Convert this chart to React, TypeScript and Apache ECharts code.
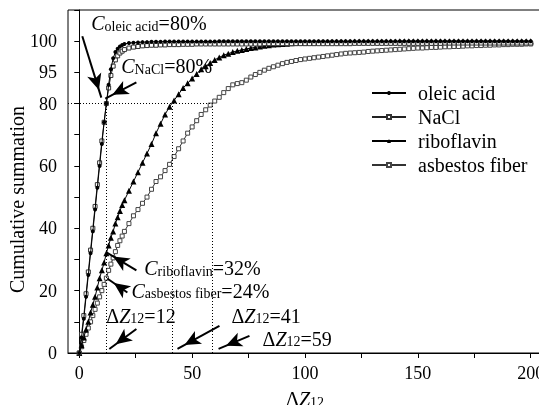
import React, { useEffect, useRef } from "react";
import * as echarts from "echarts";

const FONT = '"Liberation Serif", "Times New Roman", Times, serif';

// ΔZ12 sample positions
const dz = [
  0, 1, 2, 3, 4, 5, 6, 7, 8, 9, 10, 11, 12, 13, 14, 15, 16, 17, 18, 19, 20,
  22, 24, 26, 28, 30, 32, 34, 36, 38, 40, 42, 44, 46, 48, 50, 52, 54, 56, 58, 60,
  62, 64, 66, 68, 70, 72, 74, 76, 78, 80, 82, 84, 86, 88, 90, 92, 94, 96, 98, 100,
  102, 104, 106, 108, 110, 112, 114, 116, 118, 120, 122, 124, 126, 128, 130, 132, 134, 136, 138, 140,
  142, 144, 146, 148, 150, 152, 154, 156, 158, 160, 162, 164, 166, 168, 170, 172, 174, 176, 178, 180,
  182, 184, 186, 188, 190, 192, 194, 196, 198, 200,
];

const oleicAcid = [
  0, 5, 11, 18, 25, 32, 39, 46, 53, 60, 67, 74, 80, 86, 91, 94.5, 96.5, 97.6, 98.3, 98.8, 99.1,
  99.4, 99.5, 99.6, 99.7, 99.7, 99.8, 99.8, 99.8, 99.9, 99.9, 99.9, 99.9, 99.9, 99.9, 99.9, 99.9, 99.9, 99.9, 99.9, 99.9,
  100, 100, 100, 100, 100, 100, 100, 100, 100, 100, 100, 100, 100, 100, 100, 100, 100, 100, 100, 100,
  100, 100, 100, 100, 100, 100, 100, 100, 100, 100, 100, 100, 100, 100, 100, 100, 100, 100, 100, 100,
  100, 100, 100, 100, 100, 100, 100, 100, 100, 100, 100, 100, 100, 100, 100, 100, 100, 100, 100, 100,
  100, 100, 100, 100, 100, 100, 100, 100, 100, 100,
];

const naCl = [
  0, 6, 12, 19, 26, 33, 40, 47, 54, 61, 68, 74, 80, 85, 89, 92, 94, 95.3, 96.2, 96.8, 97.3,
  97.8, 98.1, 98.3, 98.5, 98.6, 98.7, 98.7, 98.8, 98.8, 98.9, 98.9, 98.9, 99, 99, 99, 99.1, 99.1, 99.1, 99.1, 99.1,
  99.1, 99.1, 99.1, 99.1, 99.1, 99.1, 99.1, 99.1, 99.1, 99.1, 99.2, 99.2, 99.2, 99.2, 99.2, 99.2, 99.2, 99.2, 99.2, 99.2,
  99.2, 99.2, 99.2, 99.2, 99.2, 99.2, 99.2, 99.2, 99.2, 99.2, 99.3, 99.3, 99.3, 99.3, 99.3, 99.3, 99.3, 99.3, 99.3, 99.3,
  99.3, 99.3, 99.3, 99.3, 99.3, 99.3, 99.3, 99.3, 99.3, 99.3, 99.4, 99.4, 99.4, 99.4, 99.4, 99.4, 99.4, 99.4, 99.4, 99.4,
  99.4, 99.4, 99.4, 99.4, 99.4, 99.4, 99.4, 99.4, 99.4, 99.4,
];

const riboflavin = [
  0, 2.5, 5, 7.5, 10, 13, 15.5, 18, 21, 24, 26.5, 29, 32, 34.5, 37, 39, 41.5, 43.5, 45.5, 47.5, 49,
  52, 55, 58, 61, 64, 67, 70.5, 73.5, 76.5, 79, 81, 83, 85, 86.5, 88, 89.5, 91, 92, 93, 94,
  94.8, 95.5, 96, 96.5, 96.9, 97.2, 97.5, 97.8, 98, 98.3, 98.5, 98.7, 98.9, 99, 99.1, 99.2, 99.3, 99.4, 99.5, 99.5,
  99.6, 99.6, 99.7, 99.7, 99.7, 99.8, 99.8, 99.8, 99.8, 99.8, 99.9, 99.9, 99.9, 99.9, 99.9, 99.9, 99.9, 99.9, 99.9, 99.9,
  100, 100, 100, 100, 100, 100, 100, 100, 100, 100, 100, 100, 100, 100, 100, 100, 100, 100, 100, 100,
  100, 100, 100, 100, 100, 100, 100, 100, 100, 100,
];

const asbestosFiber = [
  0, 2, 4, 6, 8, 10, 12, 14, 16, 18, 20, 22, 24, 26.5, 28.5, 30.5, 32.5, 34.5, 36, 37.5, 39,
  41.5, 44, 46, 48, 50, 52.5, 55, 56.5, 58.5, 60.5, 63, 65.5, 68, 70.5, 72.5, 74.5, 76.5, 78, 79.5, 80.8,
  82, 83.5, 84.8, 86, 86.4, 86.7, 87.5, 88.5, 89.3, 90, 90.7, 91.3, 91.8, 92.3, 92.8, 93.2, 93.5, 93.8, 94.1, 94.3,
  94.5, 94.7, 94.9, 95.1, 95.3, 95.5, 95.7, 95.9, 96.1, 96.2, 96.3, 96.4, 96.5, 96.7, 96.8, 96.9, 97, 97.1, 97.2, 97.3,
  97.4, 97.5, 97.6, 97.7, 97.8, 97.8, 97.9, 98, 98, 98.1, 98.2, 98.2, 98.3, 98.3, 98.4, 98.5, 98.5, 98.6, 98.6, 98.7,
  98.7, 98.8, 98.8, 98.9, 98.9, 99, 99, 99, 99.1, 99.1,
];

const seriesNames = ["oleic acid", "NaCl", "riboflavin", "asbestos fiber"];
const xTickValues = [0, 25, 50, 75, 100, 125, 150, 175, 200];
const xLabelValues = [0, 50, 100, 150, 200];

// reference lines (data space)
const refLines: [number, number, number, number][] = [
  [-5, 80, 59, 80],
  [12, 0, 12, 80],
  [41, 0, 41, 80],
  [59, 0, 59, 80],
];

// arrows: from (x,y) to tip (x,y), data space
const arrows: [number, number, number, number][] = [
  [1.33, 101.6, 9.76, 81.9],
  [25.3, 86.8, 11.5, 81.6],
  [25.3, 26.5, 12.0, 32.3],
  [21.3, 19.4, 12.4, 23.9],
  [25.3, 7.7, 13.3, 1.3],
  [62.1, 8.7, 43.5, 1.3],
  [75.4, 5.5, 61.7, 1.3],
];

// annotation texts: anchor (left, middle) in data space
const notes: { x: number; y: number; text: string }[] = [
  { x: 5.3, y: 105.8, text: "{i|C}{s|oleic acid}{n|=80%}" },
  { x: 18.6, y: 91.9, text: "{i|C}{s|NaCl}{n|=80%}" },
  { x: 28.8, y: 27.1, text: "{i|C}{s|riboflavin}{n|=32%}" },
  { x: 23.1, y: 20, text: "{i|C}{s|asbestos fiber}{n|=24%}" },
  { x: 12.0, y: 11.9, text: "{n|Δ}{i|Z}{s|12}{n|=12}" },
  { x: 67.4, y: 11.9, text: "{n|Δ}{i|Z}{s|12}{n|=41}" },
  { x: 81.2, y: 4.5, text: "{n|Δ}{i|Z}{s|12}{n|=59}" },
];

const rich = {
  i: { fontFamily: FONT, fontSize: 20, fontStyle: "italic", lineHeight: 20, padding: [0, 0, 2, 0], verticalAlign: "top", color: "#000" },
  n: { fontFamily: FONT, fontSize: 20, lineHeight: 20, padding: [0, 0, 2, 0], verticalAlign: "top", color: "#000" },
  s: { fontFamily: FONT, fontSize: 14, lineHeight: 14, verticalAlign: "bottom", color: "#000" },
};

const pairs = (vals: number[]) => dz.map((x, i) => [x, vals[i]]);

export default function App() {
  const ref = useRef<HTMLDivElement>(null);
  useEffect(() => {
    if (!ref.current) return;
    const chart = echarts.init(ref.current, null, { renderer: "svg" });
    const markData: any[] = [];
    refLines.forEach(([x1, y1, x2, y2]) => {
      markData.push([
        { coord: [x1, y1], symbol: "none", lineStyle: { type: [1, 2], width: 1, color: "#000" } },
        { coord: [x2, y2], symbol: "none" },
      ]);
    });
    arrows.forEach(([x1, y1, x2, y2]) => {
      markData.push([
        { coord: [x1, y1], symbol: "none", lineStyle: { type: "solid", width: 2, color: "#000" } },
        { coord: [x2, y2], symbol: "arrow", symbolSize: [11, 16], symbolOffset: [0, 8] },
      ]);
    });
    chart.setOption({
      animation: false,
      textStyle: { fontFamily: FONT, color: "#000" },
      grid: {
        left: 68, top: 10, right: 18, bottom: 52,
        show: true, borderColor: "#000", borderWidth: 1,
        outerBoundsMode: "none",
      },
      legend: {
        orient: "vertical",
        left: 366,
        top: 76,
        itemWidth: 34,
        itemHeight: 5,
        itemGap: 0,
        data: seriesNames,
        textStyle: { fontFamily: FONT, fontSize: 20, color: "#000", lineHeight: 24, padding: [0, 0, 0, 7] },
        selectedMode: false,
      },
      xAxis: {
        type: "value",
        min: -5,
        max: 205,
        splitLine: { show: false },
        axisLine: { lineStyle: { color: "#000", width: 1 } },
        axisTick: { show: true, length: 5, customValues: xTickValues, lineStyle: { color: "#000" } },
        axisLabel: { fontSize: 18, fontFamily: FONT, color: "#000", margin: 11, customValues: xLabelValues },
        name: "{n|Δ}{i|Z}{s|12}",
        nameLocation: "middle",
        nameGap: 36,
        nameMoveOverlap: false,
        nameTextStyle: { rich },
      },
      yAxis: {
        type: "value",
        min: 0,
        max: 110,
        interval: 10,
        splitLine: { show: false },
        axisLine: { show: true, lineStyle: { color: "#000", width: 1 } },
        axisTick: { show: true, length: 5, lineStyle: { color: "#000" } },
        axisLabel: {
          fontSize: 18,
          fontFamily: FONT,
          color: "#000",
          margin: 11,
          formatter: (v: number) => {
            if (v === 90) return "95";
            if (v <= 100 && v % 20 === 0) return String(v);
            if (v === 100) return "100";
            return "";
          },
        },
        name: "Cumulative summation",
        nameLocation: "middle",
        nameGap: 41,
        nameMoveOverlap: false,
        nameTextStyle: { fontSize: 20, fontFamily: FONT, color: "#000", padding: [0, 36, 0, 0] },
      },
      series: [
        {
          name: "asbestos fiber",
          type: "line",
          data: pairs(asbestosFiber),
          symbol: "rect",
          symbolSize: 4,
          color: "#333",
          itemStyle: { color: "#fff", borderColor: "#444", borderWidth: 1 },
          lineStyle: { color: "#333", width: 1 },
          z: 2,
        },
        {
          name: "riboflavin",
          type: "line",
          data: pairs(riboflavin),
          symbol: "triangle",
          symbolSize: 6,
          color: "#000",
          itemStyle: { color: "#000" },
          lineStyle: { color: "#000", width: 1 },
          z: 3,
        },
        {
          name: "NaCl",
          type: "line",
          data: pairs(naCl),
          symbol: "rect",
          symbolSize: 4,
          color: "#222",
          itemStyle: { color: "#fff", borderColor: "#333", borderWidth: 1 },
          lineStyle: { color: "#222", width: 1 },
          z: 4,
        },
        {
          name: "oleic acid",
          type: "line",
          data: pairs(oleicAcid),
          symbol: "circle",
          symbolSize: 4,
          color: "#000",
          itemStyle: { color: "#000" },
          lineStyle: { color: "#000", width: 1 },
          z: 5,
        },
        {
          name: "annotations",
          type: "line",
          data: [],
          silent: true,
          markLine: {
            silent: true,
            animation: false,
            label: { show: false },
            emphasis: { disabled: true },
            symbol: "none",
            data: markData,
          },
          z: 6,
        },
      ],
    });
    const graphics = notes.map((n) => {
      const [px, py] = chart.convertToPixel({ gridIndex: 0 }, [n.x, n.y]) as number[];
      return {
        type: "text",
        x: px,
        y: py,
        silent: true,
        z: 10,
        style: { text: n.text, rich, align: "left", verticalAlign: "middle", fontFamily: FONT, fill: "#000" },
      };
    });
    chart.setOption({ graphic: graphics });
    return () => chart.dispose();
  }, []);
  return <div ref={ref} style={{ position: "fixed", left: 0, top: 0, width: 560, height: 405 }} />;
}
